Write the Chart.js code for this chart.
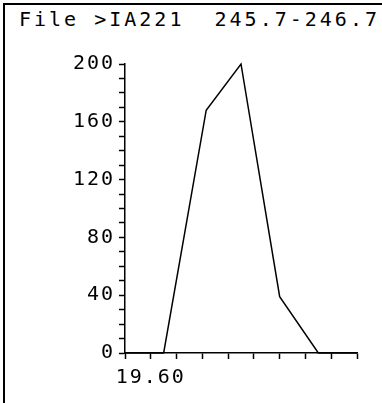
<!DOCTYPE html>
<html>
<head>
<meta charset="utf-8">
<script src="https://cdn.jsdelivr.net/npm/chart.js@4"></script>
<style>
  body { margin: 0; background: #fff; overflow: hidden; }
  #frame { position: absolute; left: 3px; top: 3px; width: 379px; height: 400px;
           border-top: 2px solid #000; border-left: 2px solid #000; box-sizing: border-box; }
  #title { position: absolute; left: 19px; top: 8px; white-space: pre;
           font: 20px 'DejaVu Sans Mono', monospace; letter-spacing: 3px; color: #000; line-height: 22px; }
  #wrap { position: absolute; left: 0; top: 0; width: 382px; height: 403px; }
</style>
</head>
<body>
<div id="frame"></div>
<div id="title">File &gt;IA221  245.7-246.7</div>
<div id="wrap"><canvas id="c"></canvas></div>
<script>
// peak profile
const xValues = [19.58, 19.61, 19.643, 19.67, 19.70, 19.73, 19.76];
const yValues = [0, 0, 168, 200, 39, 0, 0];
const xLabelled = [19.60];
const yLabelled = [0, 40, 80, 120, 160, 200];

Chart.defaults.font.family = "'DejaVu Sans Mono', monospace";
Chart.defaults.font.size = 20;
Chart.defaults.color = '#000';

// wide plotter-style lettering
const spacing = {
    id: 'spacing',
    beforeLayout(c) { c.ctx.letterSpacing = '2px'; },
    beforeDraw(c) { c.ctx.letterSpacing = '2px'; }
};

new Chart(document.getElementById('c'), {
    type: 'line',
    data: {
        datasets: [{
            data: xValues.map((x, i) => ({ x: x, y: yValues[i] })),
            borderColor: '#000',
            borderWidth: 1.5,
            pointRadius: 0,
            tension: 0,
            clip: 4
        }]
    },
    options: {
        responsive: true,
        maintainAspectRatio: false,
        animation: false,
        layout: { padding: { top: 64, right: 25, left: 0, bottom: 0 } },
        plugins: { legend: { display: false }, tooltip: { enabled: false } },
        scales: {
            x: {
                type: 'linear',
                min: 19.58, max: 19.76,
                afterFit: s => { s.height = 50; },
                border: { display: true, color: '#000', width: 1.5 },
                grid: { drawOnChartArea: false, drawTicks: true, tickLength: 6, tickColor: '#000', tickWidth: 1.5 },
                ticks: {
                    stepSize: 0.02, autoSkip: false, maxRotation: 0, padding: 7,
                    callback: v => xLabelled.some(t => Math.abs(t - v) < 1e-6) ? v.toFixed(2) : ''
                }
            },
            y: {
                min: 0, max: 200,
                afterFit: s => { s.width = 125; },
                border: { display: true, color: '#000', width: 1.5 },
                grid: { drawOnChartArea: false, drawTicks: true, tickLength: 6, tickColor: '#000', tickWidth: 1.5 },
                ticks: {
                    stepSize: 10, autoSkip: false, padding: 4,
                    callback: v => yLabelled.includes(v) ? String(v) : ''
                }
            }
        }
    },
    plugins: [spacing]
});
</script>
</body>
</html>
